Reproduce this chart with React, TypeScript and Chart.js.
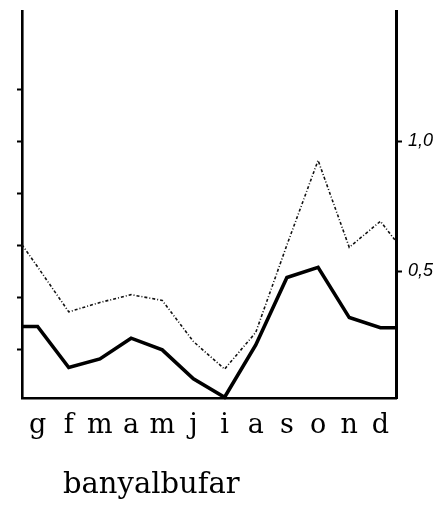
import React, { useEffect, useRef } from "react";
import { Chart, registerables } from "chart.js";

Chart.register(...registerables);

// month initials (catalan)
const months = ["g", "f", "m", "a", "m", "j", "i", "a", "s", "o", "n", "d"];
// thick solid series
const solidValues = [0.288, 0.13, 0.163, 0.243, 0.198, 0.087, 0.016, 0.217, 0.476, 0.515, 0.322, 0.283];
const solidEdges = [0.288, 0.283];
// thin dotted series
const dottedValues = [0.517, 0.344, 0.38, 0.41, 0.388, 0.23, 0.124, 0.265, 0.601, 0.926, 0.592, 0.692];
const dottedEdges = [0.602, 0.615];
// axis ticks
const leftTickValues = [0.2, 0.4, 0.6, 0.8, 1.0, 1.2];
const rightTickValues = [0.5, 1.0];
const rightTickLabels = ["0,5", "1,0"];
const title = "banyalbufar";

const Y_MIN = 0.013;
const Y_MAX = 1.5;
const X_MIN = -0.5;
const X_MAX = 11.5;

function series(values: number[], edges: number[]) {
  return [
    { x: X_MIN, y: edges[0] },
    ...values.map((v, i) => ({ x: i, y: v })),
    { x: X_MAX, y: edges[1] },
  ];
}

const titleIndent = {
  id: "titleIndent",
  afterLayout(chart: any) {
    const t = chart.titleBlock;
    if (t) {
      t.left = 63;
    }
  },
};

export default function App() {
  const ref = useRef<HTMLCanvasElement | null>(null);
  useEffect(() => {
    if (!ref.current) return;
    const fitW = (w: number) => (s: any) => {
      s.width = w;
      s.paddingTop = 0;
      s.paddingBottom = 0;
    };
    const chart = new Chart(ref.current, {
      type: "line",
      plugins: [titleIndent],
      data: {
        datasets: [
          {
            data: series(solidValues, solidEdges),
            borderColor: "#000",
            borderWidth: 3.6,
            pointRadius: 0,
            tension: 0,
            clip: false as any,
            borderJoinStyle: "miter",
          },
          {
            data: series(dottedValues, dottedEdges),
            borderColor: "#111",
            borderWidth: 1.6,
            borderDash: [3, 2, 1, 2],
            pointRadius: 0,
            tension: 0,
            clip: false as any,
          },
        ],
      },
      options: {
        animation: false,
        responsive: true,
        maintainAspectRatio: false,
        layout: { padding: { top: 11, left: 0, right: 0, bottom: 0 } },
        plugins: {
          legend: { display: false },
          tooltip: { enabled: false },
          title: {
            display: true,
            text: title,
            position: "bottom",
            align: "start",
            color: "#000",
            font: { family: "DejaVu Serif", size: 29, weight: "normal" },
            padding: { top: 0, bottom: 8 },
          },
        },
        scales: {
          x: {
            type: "linear",
            min: X_MIN,
            max: X_MAX,
            afterBuildTicks: (s: any) => {
              s.ticks = months.map((_, i) => ({ value: i }));
            },
            afterFit: (s: any) => {
              s.height = 70.2;
              s.paddingLeft = 0;
              s.paddingRight = 0;
            },
            ticks: {
              callback: (v: any) => months[Number(v)],
              color: "#000",
              padding: 4,
              maxRotation: 0,
              autoSkip: false,
              font: { family: "DejaVu Serif", size: 27 },
            },
            grid: { display: false },
            border: { display: true, color: "#000", width: 2.6 },
          },
          y: {
            type: "linear",
            position: "left",
            min: Y_MIN,
            max: Y_MAX,
            afterBuildTicks: (s: any) => {
              s.ticks = leftTickValues.map((v) => ({ value: v }));
            },
            afterFit: fitW(22),
            ticks: { display: false },
            grid: {
              display: true,
              drawOnChartArea: false,
              drawTicks: true,
              tickLength: 5,
              tickWidth: 2,
              tickColor: "#000",
              color: "#000",
            },
            border: { display: true, color: "#000", width: 2.6 },
          },
          y2: {
            type: "linear",
            position: "right",
            min: Y_MIN,
            max: Y_MAX,
            afterBuildTicks: (s: any) => {
              s.ticks = rightTickValues.map((v) => ({ value: v }));
            },
            afterFit: fitW(48),
            ticks: {
              callback: (_v: any, i: number) => rightTickLabels[i],
              color: "#000",
              padding: 6,
              font: { family: "Liberation Sans", size: 18, style: "italic" },
            },
            grid: {
              display: true,
              drawOnChartArea: false,
              drawTicks: true,
              tickLength: 6,
              tickWidth: 2,
              tickColor: "#000",
              color: "#000",
            },
            border: { display: true, color: "#000", width: 3 },
          },
        },
      },
    });
    return () => chart.destroy();
  }, []);
  return (
    <div style={{ position: "fixed", left: 0, top: 0, width: 444, height: 511, background: "#fff" }}>
      <canvas ref={ref} />
    </div>
  );
}
